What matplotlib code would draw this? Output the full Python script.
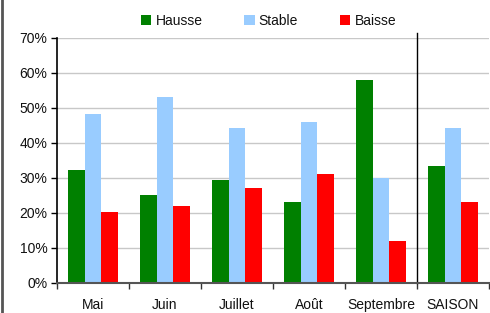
import matplotlib
matplotlib.use("Agg")
import matplotlib.pyplot as plt
from matplotlib.lines import Line2D
import numpy as np

plt.rcParams['font.family'] = ['Liberation Sans', 'DejaVu Sans']

categories = ["Mai", "Juin", "Juillet", "Août", "Septembre", "SAISON"]
hausse = [32.2, 25.1, 29.3, 23.1, 57.9, 33.3]
stable = [48.2, 53.1, 44.2, 45.9, 29.9, 44.2]
baisse = [20.2, 21.9, 27.1, 31.1, 11.9, 23.1]
series_names = ["Hausse", "Stable", "Baisse"]
colors = ["#008000", "#99CCFF", "#FF0000"]
yticks = [0, 10, 20, 30, 40, 50, 60, 70]

W, H = 490, 313
fig = plt.figure(figsize=(W / 100, H / 100), dpi=100)
ax = fig.add_axes([57 / W, 1 - 282.7 / H, 432 / W, 245 / H])

x = np.arange(len(categories))
bw = 0.227
for i, (vals, name, c) in enumerate(zip([hausse, stable, baisse], series_names, colors)):
    ax.bar(x + (i - 1) * bw, vals, width=bw, color=c, label=name, zorder=3, linewidth=0)

ax.set_xlim(-0.5, len(categories) - 0.5)
ax.set_ylim(0, 70)
ax.set_yticks(yticks)
ax.set_yticklabels([f"{v}%" for v in yticks], fontsize=10, color="#111111")
ax.set_xticks(x)
ax.set_xticklabels(categories, fontsize=10, color="#111111")
ax.tick_params(axis='x', length=0, pad=11)
ax.set_xticks(np.arange(-0.5, len(categories) - 0.4, 1), minor=True)
ax.tick_params(axis='x', which='minor', length=4, width=1, color="#333333", direction='out')
ax.tick_params(axis='y', length=4, width=1, color="#000000", direction='out', pad=3)
ax.yaxis.grid(True, color="#C8C8C8", linewidth=1, zorder=0)
for s in ["top", "right"]:
    ax.spines[s].set_visible(False)
ax.spines["left"].set_color("#000000")
ax.spines["left"].set_linewidth(1.2)
ax.spines["bottom"].set_color("#555555")
ax.spines["bottom"].set_linewidth(1.5)
ax.spines["bottom"].set_zorder(4)

# separator line before SAISON
ax.plot([4.5, 4.5], [0, 71.2], color="black", linewidth=1, clip_on=False, zorder=4)

leg = fig.legend(loc="upper center", bbox_to_anchor=(0.548, 0.995), ncol=3, frameon=False,
                 fontsize=10, handlelength=0.75, handleheight=0.75, handletextpad=0.3,
                 columnspacing=3.0)
for t in leg.get_texts():
    t.set_color("#111111")

# outer frame left edge
fig.add_artist(Line2D([1.5 / W, 1.5 / W], [0, 1], color="#555555", linewidth=2, transform=fig.transFigure))

fig.savefig("out.png", dpi=100)
